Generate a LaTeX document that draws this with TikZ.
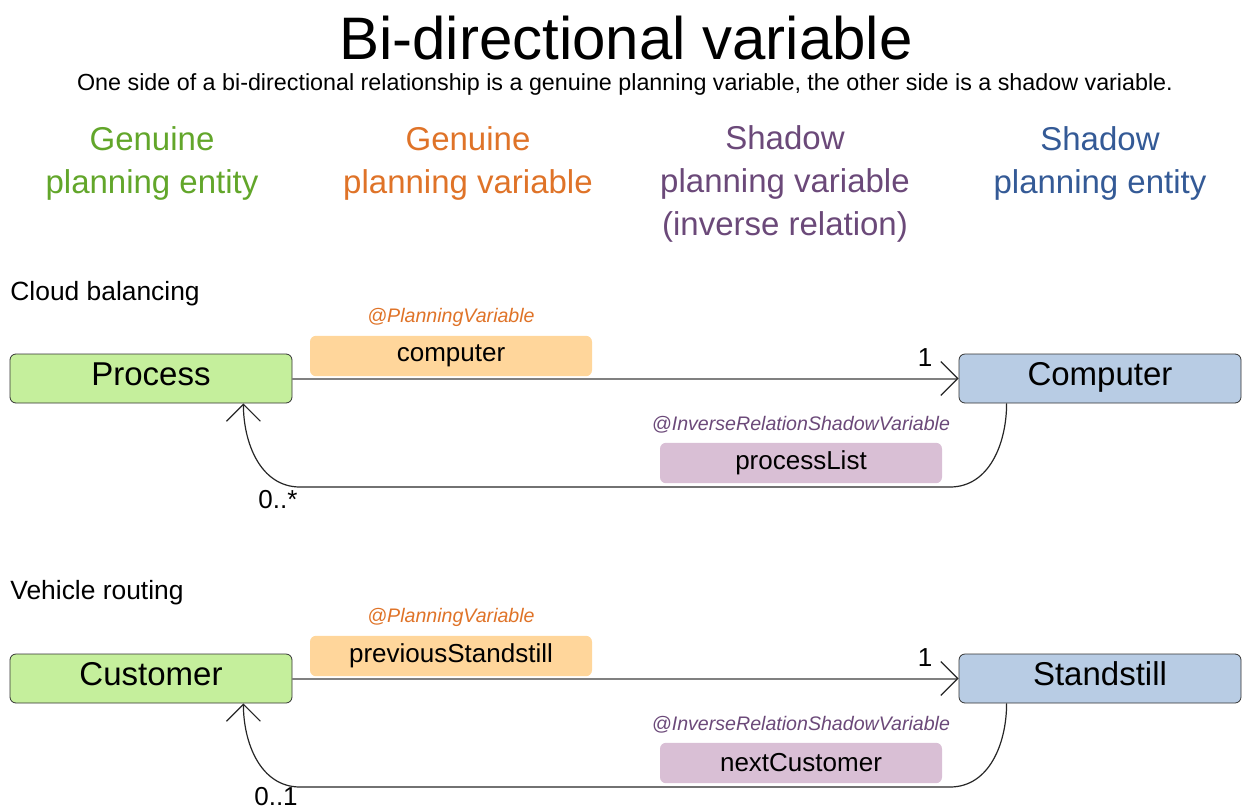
\documentclass[tikz,border=0pt]{standalone}
\usepackage{fontspec}
\setmainfont{Liberation Sans}
\usetikzlibrary{arrows.meta,positioning}

\definecolor{genent}{HTML}{62A62A}
\definecolor{genvar}{HTML}{DF7328}
\definecolor{shavar}{HTML}{6B4979}
\definecolor{shaent}{HTML}{345A96}
\definecolor{entfill}{HTML}{C5EF9C}
\definecolor{shafill}{HTML}{B8CCE4}
\definecolor{varfill}{HTML}{FFD69B}
\definecolor{invfill}{HTML}{D9BFD5}

\begin{document}
\begin{tikzpicture}[
      x=0.5pt, y=-0.5pt,
      title/.style={font=\fontsize{30}{36}\selectfont},
      subtitle/.style={font=\fontsize{11.65}{14}\selectfont},
      header/.style={font=\fontsize{16.5}{21.5}\selectfont, align=center},
      usecase/.style={font=\fontsize{13.2}{16}\selectfont, anchor=west, inner sep=0pt},
      entity/.style={draw=black!80, rounded corners=3pt, minimum width=141pt,
          minimum height=24.5pt, inner sep=0pt, text height=12pt, text depth=5pt,
          font=\fontsize{16.5}{20}\selectfont},
      varbox/.style={rounded corners=3pt, minimum width=141pt, minimum height=20.2pt,
          inner sep=0pt, font=\fontsize{13}{16}\selectfont},
      annot/.style={font=\fontsize{9.8}{12}\selectfont\itshape},
      mult/.style={font=\fontsize{13}{16}\selectfont, inner sep=0pt},
      fwd/.style={draw=black!50, line width=1pt,
          -{Straight Barb[length=8.5pt,width=17pt,line width=0.6pt,color=black!85]}},
      back/.style={draw=black!85, line width=0.6pt,
          -{Straight Barb[length=8.5pt,width=17pt,line width=0.6pt]}},
    ]
    \useasboundingbox (0,0) rectangle (1243,809);

    \node[title] (ttl) at (626,38) {Bi-directional variable};
    \node[subtitle] (sub) at (625,84) {One side of a bi-directional relationship is a genuine planning variable, the other side is a shadow variable.};

    \node[header, text=genent] (hge) at (152,163) {Genuine\\planning entity};
    \node[header, text=genvar] (hgv) at (468,163) {Genuine\\planning variable};
    \node[header, text=shavar] (hsv) at (785,184) {Shadow\\planning variable\\(inverse relation)};
    \node[header, text=shaent] (hse) at (1100,163) {Shadow\\planning entity};

    \node[usecase] (cloud) at (10,294) {Cloud balancing};
    \node[entity, fill=entfill] (proc) at (151,378.5) {Process};
    \node[entity, fill=shafill] (comp) at (1100,378.5) {Computer};
    \node[varbox, fill=varfill] (compvar) at (451,356) {computer};
    \node[annot, text=genvar, above=1pt of compvar] (compann) {@PlanningVariable};
    \node[varbox, fill=invfill] (plist) at (801,463) {processList};
    \node[annot, text=shavar, above=1pt of plist] (plistann) {@InverseRelationShadowVariable};
    \draw[fwd] (proc) -- (comp);
    \node[mult] (one1) at (925,358) {1};
    \draw[back] ([xshift=24pt]comp.south west) to[out=-90,in=0] (950,487)
      -- (300,487) to[out=180,in=-90] ([xshift=-24.5pt]proc.south east);
    \node[mult] (many1) at (278,500) {0..*};

    \node[usecase] (vrp) at (10,593) {Vehicle routing};
    \node[entity, fill=entfill] (cust) at (151,678.5) {Customer};
    \node[entity, fill=shafill] (stand) at (1100,678.5) {Standstill};
    \node[varbox, fill=varfill] (prevvar) at (451,656) {previousStandstill};
    \node[annot, text=genvar, above=1pt of prevvar] (prevann) {@PlanningVariable};
    \node[varbox, fill=invfill] (nextc) at (801,763) {nextCustomer};
    \node[annot, text=shavar, above=1pt of nextc] (nextann) {@InverseRelationShadowVariable};
    \draw[fwd] (cust) -- (stand);
    \node[mult] (one2) at (925,658) {1};
    \draw[back] ([xshift=24pt]stand.south west) to[out=-90,in=0] (950,787)
      -- (300,787) to[out=180,in=-90] ([xshift=-24.5pt]cust.south east);
    \node[mult] (many2) at (276,797) {0..1};
  \end{tikzpicture}
\end{document}
